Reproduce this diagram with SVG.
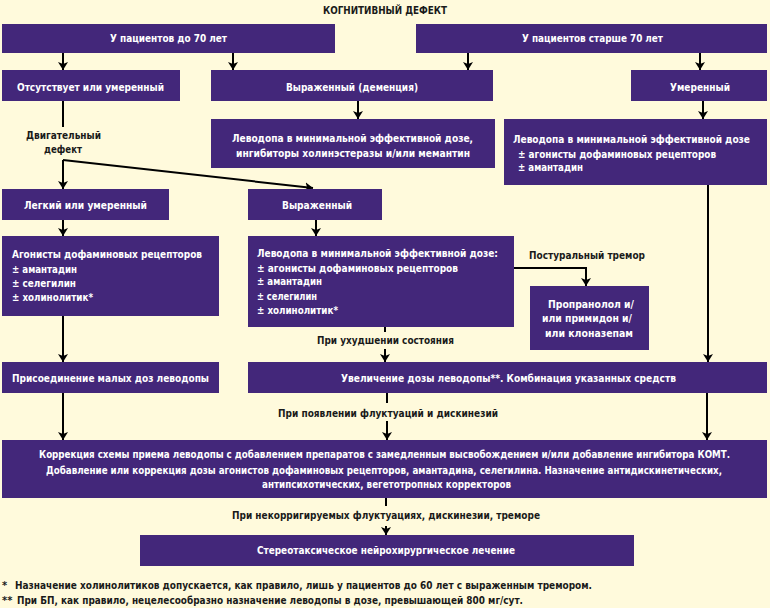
<svg xmlns="http://www.w3.org/2000/svg" width="770" height="608" viewBox="0 0 770 608">
<style>
.bg{fill:#FFFADC}
.box{fill:#43277A}
.t{font-family:"DejaVu Sans Condensed","Liberation Sans Narrow","Liberation Sans",sans-serif;font-weight:bold;font-size:11px;fill:#ffffff}
.s{font-size:10px}
.k{font-family:"DejaVu Sans Condensed","Liberation Sans Narrow","Liberation Sans",sans-serif;font-weight:bold;font-size:11px;fill:#1a1a1a}
.ln{stroke:#000;stroke-width:2;fill:none}
</style>
<defs>
<marker id="ah" viewBox="0 0 8 10" refX="8" refY="5" markerWidth="4" markerHeight="5" orient="auto" markerUnits="strokeWidth">
<path d="M0,0 L8,5 L0,10 L2,5 Z" fill="#000"/>
</marker>
</defs>
<rect class="bg" x="0" y="0" width="770" height="608"/>
<text class="k" x="323" y="14" textLength="124" lengthAdjust="spacingAndGlyphs">КОГНИТИВНЫЙ ДЕФЕКТ</text>

<g id="connectors">
<line class="ln" x1="63" y1="53" x2="63" y2="70" marker-end="url(#ah)"/>
<line class="ln" x1="233" y1="53" x2="233" y2="70" marker-end="url(#ah)"/>
<line class="ln" x1="468" y1="53" x2="468" y2="70" marker-end="url(#ah)"/>
<line class="ln" x1="700" y1="53" x2="700" y2="70" marker-end="url(#ah)"/>
<line class="ln" x1="358" y1="101" x2="358" y2="119" marker-end="url(#ah)"/>
<line class="ln" x1="703" y1="101" x2="703" y2="119" marker-end="url(#ah)"/>
<line class="ln" x1="63" y1="101" x2="63" y2="127"/>
<line class="ln" x1="63" y1="160" x2="63" y2="189" marker-end="url(#ah)"/>
<line class="ln" x1="63" y1="160" x2="313" y2="188" stroke-width="1.5" marker-end="url(#ah)"/>
<line class="ln" x1="63" y1="220" x2="63" y2="236" marker-end="url(#ah)"/>
<line class="ln" x1="316" y1="220" x2="316" y2="236" marker-end="url(#ah)"/>
<polyline class="ln" points="514,268 586,268 586,286" marker-end="url(#ah)"/>
<line class="ln" x1="63" y1="316" x2="63" y2="362" marker-end="url(#ah)"/>
<line class="ln" x1="708" y1="185" x2="708" y2="362" marker-end="url(#ah)"/>
<line class="ln" x1="385" y1="327" x2="385" y2="332"/>
<line class="ln" x1="385" y1="349" x2="385" y2="362" marker-end="url(#ah)"/>
<line class="ln" x1="63" y1="393" x2="63" y2="440" marker-end="url(#ah)"/>
<line class="ln" x1="387" y1="393" x2="387" y2="403"/>
<line class="ln" x1="387" y1="421" x2="387" y2="440" marker-end="url(#ah)"/>
<line class="ln" x1="707" y1="393" x2="707" y2="440" marker-end="url(#ah)"/>
<line class="ln" x1="386" y1="498" x2="386" y2="506"/>
<line class="ln" x1="386" y1="526" x2="386" y2="535" marker-end="url(#ah)"/>
</g>

<g id="lbl-motor"><text class="k" x="26" y="139" textLength="75" lengthAdjust="spacingAndGlyphs">Двигательный</text><text class="k" x="44" y="153" textLength="38" lengthAdjust="spacingAndGlyphs">дефект</text></g>
<g id="lbl-tremor"><text class="k" x="529" y="259" textLength="116" lengthAdjust="spacingAndGlyphs">Постуральный тремор</text></g>
<g id="lbl-worse"><text class="k" x="317" y="344" textLength="137" lengthAdjust="spacingAndGlyphs">При ухудшении состояния</text></g>
<g id="lbl-fluct"><text class="k" x="278" y="417" textLength="220" lengthAdjust="spacingAndGlyphs">При появлении флуктуаций и дискинезий</text></g>
<g id="lbl-uncorr"><text class="k" x="232" y="519" textLength="308" lengthAdjust="spacingAndGlyphs">При некорригируемых флуктуациях, дискинезии, треморе</text></g>

<g id="n-under70"><rect class="box" x="2" y="24" width="333" height="29"/><text class="t" x="110" y="42" textLength="117" lengthAdjust="spacingAndGlyphs">У пациентов до 70 лет</text></g>
<g id="n-over70"><rect class="box" x="416" y="24" width="351" height="29"/><text class="t" x="522" y="42" textLength="141" lengthAdjust="spacingAndGlyphs">У пациентов старше 70 лет</text></g>
<g id="n-absent"><rect class="box" x="2" y="70" width="178" height="31"/><text class="t" x="17" y="91" textLength="147" lengthAdjust="spacingAndGlyphs">Отсутствует или умеренный</text></g>
<g id="n-dementia"><rect class="box" x="211" y="70" width="282" height="31"/><text class="t" x="286" y="91" textLength="132" lengthAdjust="spacingAndGlyphs">Выраженный (деменция)</text></g>
<g id="n-moderate"><rect class="box" x="631" y="70" width="136" height="31"/><text class="t" x="670" y="91" textLength="60" lengthAdjust="spacingAndGlyphs">Умеренный</text></g>
<g id="n-levo-dem"><rect class="box" x="211" y="119" width="284" height="49"/><text class="t" x="232" y="142" textLength="241" lengthAdjust="spacingAndGlyphs">Леводопа в минимальной эффективной дозе,</text><text class="t" x="236" y="157" textLength="234" lengthAdjust="spacingAndGlyphs">ингибиторы холинэстеразы и/или мемантин</text></g>
<g id="n-levo-old"><rect class="box" x="504" y="119" width="263" height="66"/><text class="t s" x="513" y="143" textLength="237" lengthAdjust="spacingAndGlyphs">Леводопа в минимальной эффективной дозе</text><text class="t" x="518" y="158" textLength="198" lengthAdjust="spacingAndGlyphs">± агонисты дофаминовых рецепторов</text><text class="t" x="518" y="171" textLength="65" lengthAdjust="spacingAndGlyphs">± амантадин</text></g>
<g id="n-mild"><rect class="box" x="2" y="189" width="167" height="31"/><text class="t" x="24" y="209" textLength="123" lengthAdjust="spacingAndGlyphs">Легкий или умеренный</text></g>
<g id="n-severe"><rect class="box" x="248" y="189" width="134" height="31"/><text class="t" x="282" y="209" textLength="70" lengthAdjust="spacingAndGlyphs">Выраженный</text></g>
<g id="n-agon"><rect class="box" x="2" y="236" width="217" height="80"/><text class="t" x="12" y="258" textLength="190" lengthAdjust="spacingAndGlyphs">Агонисты дофаминовых рецепторов</text><text class="t" x="12" y="273" textLength="65" lengthAdjust="spacingAndGlyphs">± амантадин</text><text class="t" x="12" y="287" textLength="64" lengthAdjust="spacingAndGlyphs">± селегилин</text><text class="t" x="12" y="301" textLength="81" lengthAdjust="spacingAndGlyphs">± холинолитик*</text></g>
<g id="n-levo-sev"><rect class="box" x="248" y="236" width="266" height="91"/><text class="t" x="257" y="257" textLength="241" lengthAdjust="spacingAndGlyphs">Леводопа в минимальной эффективной дозе:</text><text class="t" x="257" y="272" textLength="201" lengthAdjust="spacingAndGlyphs">± агонисты дофаминовых рецепторов</text><text class="t" x="257" y="285" textLength="65" lengthAdjust="spacingAndGlyphs">± амантадин</text><text class="t" x="257" y="300" textLength="60" lengthAdjust="spacingAndGlyphs">± селегилин</text><text class="t" x="257" y="314" textLength="81" lengthAdjust="spacingAndGlyphs">± холинолитик*</text></g>
<g id="n-propr"><rect class="box" x="530" y="286" width="119" height="64"/><text class="t" x="548" y="308" textLength="86" lengthAdjust="spacingAndGlyphs">Пропранолол и/</text><text class="t" x="542" y="322" textLength="90" lengthAdjust="spacingAndGlyphs">или примидон и/</text><text class="t" x="545" y="337" textLength="88" lengthAdjust="spacingAndGlyphs">или  клоназепам</text></g>
<g id="n-add"><rect class="box" x="2" y="362" width="217" height="31"/><text class="t" x="12" y="382" textLength="197" lengthAdjust="spacingAndGlyphs">Присоединение малых доз леводопы</text></g>
<g id="n-incr"><rect class="box" x="248" y="362" width="519" height="31"/><text class="t" x="341" y="382" textLength="335" lengthAdjust="spacingAndGlyphs">Увеличение дозы леводопы**. Комбинация указанных средств</text></g>
<g id="n-corr"><rect class="box" x="2" y="440" width="765" height="58"/><text class="t s" x="39" y="458" textLength="691" lengthAdjust="spacingAndGlyphs">Коррекция схемы приема леводопы с добавлением препаратов с замедленным  высвобождением и/или добавление ингибитора КОМТ.</text><text class="t s" x="46" y="474" textLength="676" lengthAdjust="spacingAndGlyphs">Добавление или коррекция дозы агонистов дофаминовых рецепторов, амантадина, селегилина. Назначение антидискинетических,</text><text class="t s" x="262" y="488" textLength="249" lengthAdjust="spacingAndGlyphs">антипсихотических, вегетотропных корректоров</text></g>
<g id="n-stereo"><rect class="box" x="140" y="535" width="494" height="31"/><text class="t" x="257" y="554" textLength="258" lengthAdjust="spacingAndGlyphs">Стереотаксическое нейрохирургическое лечение</text></g>

<text class="k" x="2" y="589">*</text><text class="k" x="15" y="589" textLength="577" lengthAdjust="spacingAndGlyphs">Назначение холинолитиков допускается, как правило, лишь у пациентов до 60 лет с выраженным тремором.</text>
<text class="k" x="2" y="604">**</text><text class="k" x="17" y="604" textLength="506" lengthAdjust="spacingAndGlyphs">При БП, как правило, нецелесообразно назначение леводопы в дозе, превышающей 800 мг/сут.</text>
</svg>
